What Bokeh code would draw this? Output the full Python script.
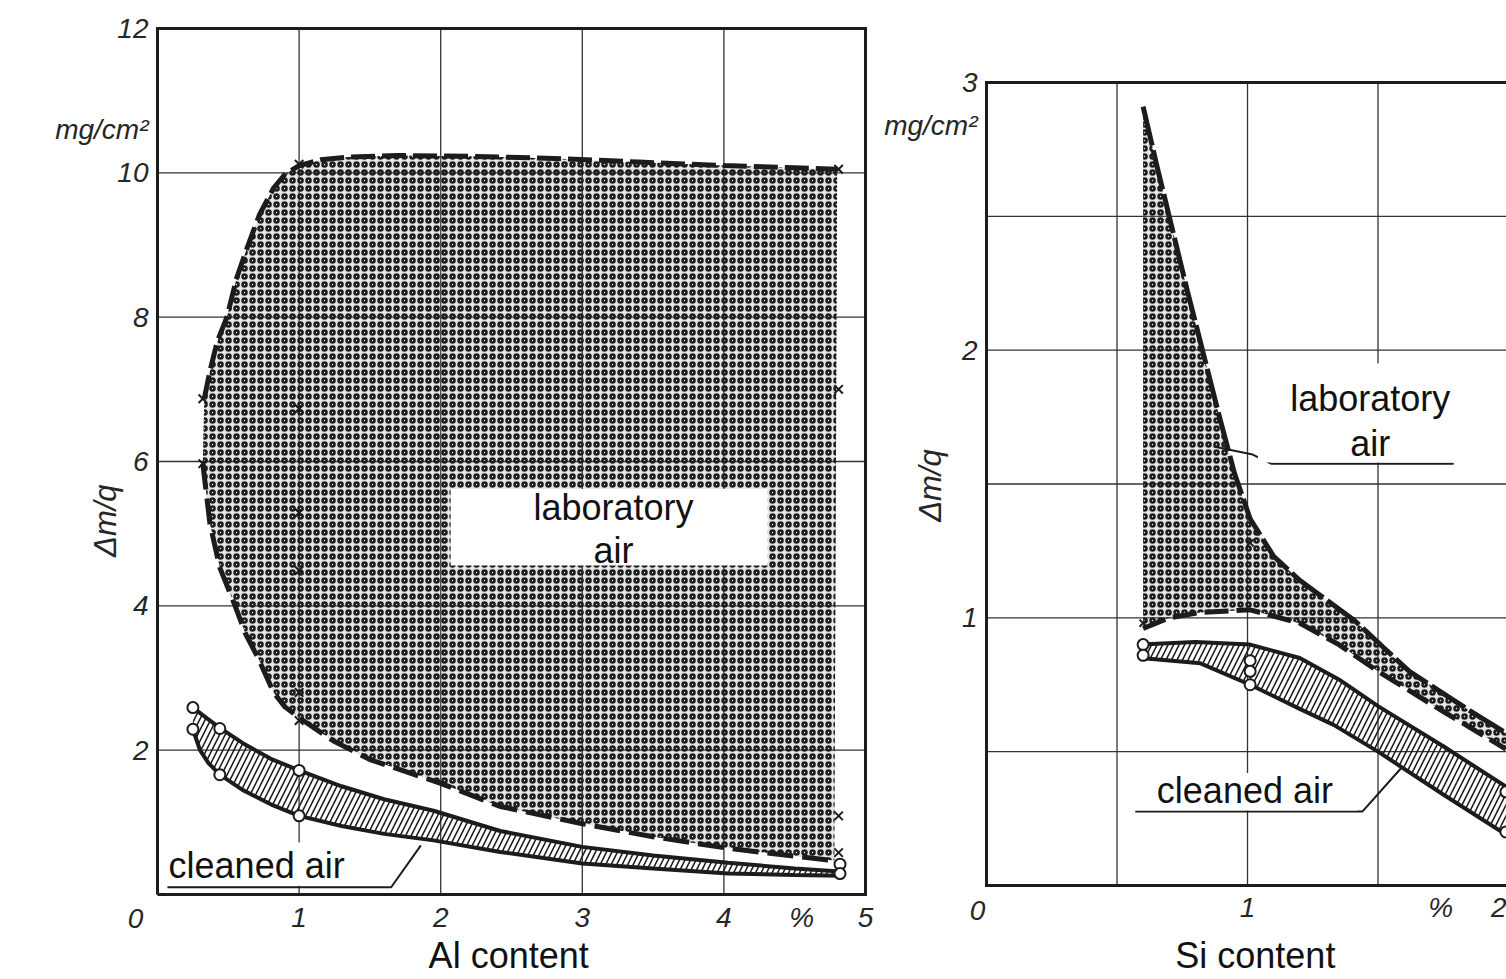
from bokeh.plotting import figure
from bokeh.layouts import row
from bokeh.models import FixedTicker, Label, BoxAnnotation, Range1d
from bokeh.embed import file_html
from bokeh.resources import INLINE

# ---------------- Al panel (left) ----------------
al_lab_upper_x = [0.33, 0.37, 0.42, 0.49, 0.56, 0.64, 0.72, 0.82, 0.90, 1.00, 1.15, 1.35, 1.70, 2.20, 2.80, 3.40, 4.00, 4.50, 4.80]
al_lab_upper_y = [6.87, 7.25, 7.65, 8.00, 8.55, 9.00, 9.42, 9.79, 9.98, 10.10, 10.18, 10.22, 10.24, 10.23, 10.20, 10.15, 10.10, 10.07, 10.05]
al_lab_lower_x = [0.32, 0.37, 0.44, 0.54, 0.62, 0.71, 0.82, 0.90, 1.00, 1.24, 1.50, 2.00, 2.42, 3.00, 3.50, 4.03, 4.50, 4.78]
al_lab_lower_y = [5.97, 5.14, 4.53, 4.04, 3.62, 3.28, 2.80, 2.60, 2.45, 2.13, 1.87, 1.54, 1.22, 0.98, 0.80, 0.64, 0.53, 0.47]
al_clean_upper_x = [0.25, 0.35, 0.44, 0.60, 0.80, 1.00, 1.30, 1.60, 1.95, 2.42, 3.00, 3.50, 4.03, 4.50, 4.82]
al_clean_upper_y = [2.59, 2.44, 2.31, 2.10, 1.88, 1.72, 1.50, 1.32, 1.16, 0.88, 0.66, 0.54, 0.44, 0.36, 0.32]
al_clean_lower_x = [0.25, 0.30, 0.36, 0.44, 0.60, 0.80, 1.00, 1.30, 1.60, 1.95, 2.42, 3.00, 3.50, 4.03, 4.50, 4.82]
al_clean_lower_y = [2.29, 2.00, 1.82, 1.66, 1.45, 1.25, 1.09, 0.95, 0.84, 0.75, 0.59, 0.43, 0.36, 0.29, 0.27, 0.26]
al_lab_pts_x = [0.32, 0.32, 1.0, 1.0, 1.0, 1.0, 1.0, 1.0, 4.81, 4.81, 4.81, 4.81]
al_lab_pts_y = [6.87, 5.97, 10.12, 6.73, 5.29, 4.49, 2.80, 2.41, 10.05, 7.00, 1.09, 0.58]
al_clean_pts_x = [0.25, 0.25, 0.44, 0.44, 1.0, 1.0, 4.82, 4.82]
al_clean_pts_y = [2.59, 2.29, 2.30, 1.66, 1.72, 1.09, 0.42, 0.29]
al_xmax, al_ymax = 5, 12
al_xticks = [1, 2, 3, 4, 5]
al_yticks = [2, 4, 6, 8, 10, 12]
al_xgrid = [1, 2, 3, 4]
al_ygrid = [2, 4, 6, 8, 10]

# ---------------- Si panel (right) ----------------
si_lab_upper_x = [0.60, 0.65, 0.71, 0.77, 0.83, 0.89, 0.95, 1.01, 1.10, 1.20, 1.27, 1.41, 1.52, 1.62, 1.73, 1.84, 1.99]
si_lab_upper_y = [2.91, 2.70, 2.46, 2.22, 1.99, 1.76, 1.54, 1.37, 1.23, 1.14, 1.09, 0.99, 0.89, 0.80, 0.73, 0.66, 0.57]
si_lab_lower_x = [0.60, 0.70, 0.82, 1.01, 1.20, 1.35, 1.50, 1.75, 1.99]
si_lab_lower_y = [0.96, 1.00, 1.02, 1.03, 0.98, 0.90, 0.80, 0.65, 0.51]
si_clean_upper_x = [0.59, 0.80, 1.01, 1.20, 1.35, 1.50, 1.75, 1.99]
si_clean_upper_y = [0.90, 0.91, 0.90, 0.85, 0.77, 0.67, 0.52, 0.37]
si_clean_lower_x = [0.59, 0.82, 1.01, 1.20, 1.33, 1.50, 1.75, 1.99]
si_clean_lower_y = [0.85, 0.83, 0.75, 0.66, 0.60, 0.50, 0.34, 0.19]
si_lab_pts_x = [0.60, 1.01]
si_lab_pts_y = [0.98, 1.28]
si_clean_pts_x = [0.60, 0.60, 1.01, 1.01, 1.01, 1.99, 1.99]
si_clean_pts_y = [0.90, 0.86, 0.84, 0.80, 0.75, 0.35, 0.20]
si_xmax, si_ymax = 2, 3
si_yticks = [1, 2, 3]
si_xgrid = [0.5, 1.0, 1.5]
si_ygrid = [0.5, 1.0, 1.5, 2.0, 2.5]

INK = "#1c1c1c"
GRID = "#333333"
FONT = "Liberation Sans"


def make_fig(width, xr, yr):
    p = figure(width=width, height=979, output_backend="svg", toolbar_location=None,
               x_range=Range1d(*xr), y_range=Range1d(*yr),
               min_border=0, min_border_left=0, min_border_right=0,
               min_border_top=0, min_border_bottom=0)
    p.outline_line_color = None
    p.grid.visible = False
    p.background_fill_color = "white"
    p.border_fill_color = "white"
    for ax in (p.xaxis[0], p.yaxis[0]):
        ax.fixed_location = 0
        ax.axis_line_color = None
        ax.major_tick_line_color = None
        ax.minor_tick_line_color = None
        ax.major_label_text_font = FONT
        ax.major_label_text_font_style = "italic"
        ax.major_label_text_font_size = "28px"
        ax.major_label_text_color = "#262626"
    p.yaxis[0].major_label_standoff = 3
    return p


def frame_and_grid(p, xmax, ymax, xgrid, ygrid):
    n, m = len(xgrid), len(ygrid)
    p.segment(x0=xgrid, y0=[0] * n, x1=xgrid, y1=[ymax] * n, line_color=GRID, line_width=1.3)
    p.segment(x0=[0] * m, y0=ygrid, x1=[xmax] * m, y1=ygrid, line_color=GRID, line_width=1.3)


def frame_box(p, xs, ys):
    p.line(xs, ys, line_color=INK, line_width=3, line_join="miter")


def band(p, ux, uy, lx, ly, pattern, scale, weight, fill=None):
    xs = list(ux) + list(reversed(lx))
    ys = list(uy) + list(reversed(ly))
    p.patch(xs, ys, fill_color=fill or "white", fill_alpha=0.22 if fill else 0,
            line_color=None, hatch_pattern=pattern, hatch_scale=scale,
            hatch_weight=weight, hatch_color=INK)


def text(p, x, y, s, size="36px", style="normal", angle=0.0, color="#111111"):
    p.add_layout(Label(x=x, y=y, text=s, text_font=FONT, text_font_size=size,
                       text_font_style=style, text_color=color, angle=angle,
                       text_align="center", text_baseline="middle"))


def white_box(p, l, r, b, t):
    p.add_layout(BoxAnnotation(left=l, right=r, bottom=b, top=t,
                               fill_color="white", fill_alpha=1, line_color=None))


# ================= left figure (Al) =================
# frame covers the whole canvas; x=0 at 157 px, x=5 at 865 px; y=0 at 894 px, y=12 at 28 px
p1 = make_fig(876, (-1.1088, 5.0777), (-1.1778, 12.388))
p1.xaxis.ticker = FixedTicker(ticks=al_xticks + [4.55])
p1.xaxis.major_label_overrides = {4.55: "%"}
p1.xaxis.major_label_standoff = 1
p1.yaxis.ticker = FixedTicker(ticks=al_yticks + [10.6])
p1.yaxis.major_label_overrides = {10.6: "mg/cm²"}
frame_and_grid(p1, al_xmax, al_ymax, al_xgrid, al_ygrid)

band(p1, al_lab_upper_x, al_lab_upper_y, al_lab_lower_x, al_lab_lower_y, "o", 8, 2.5, fill="#8a8a8a")
band(p1, al_clean_upper_x, al_clean_upper_y, al_clean_lower_x, al_clean_lower_y, "/", 11, 1.6)

frame_box(p1, [0, al_xmax, al_xmax, 0, 0], [0, 0, al_ymax, al_ymax, 0])

p1.line(al_lab_upper_x, al_lab_upper_y, line_color=INK, line_width=5, line_dash="24 7")
p1.line(al_lab_lower_x, al_lab_lower_y, line_color=INK, line_width=5, line_dash="26 9")
p1.line(al_clean_upper_x, al_clean_upper_y, line_color=INK, line_width=4)
p1.line(al_clean_lower_x, al_clean_lower_y, line_color=INK, line_width=4)
p1.scatter(al_lab_pts_x, al_lab_pts_y, marker="x", size=12, line_color=INK, line_width=2)
p1.scatter(al_clean_pts_x, al_clean_pts_y, marker="circle", size=11, line_color=INK,
           line_width=2, fill_color="white")

white_box(p1, 2.07, 4.31, 4.56, 5.62)
text(p1, 3.22, 5.36, "laboratory")
text(p1, 3.22, 4.77, "air")
white_box(p1, 0.04, 1.65, 0.12, 0.72)
text(p1, 0.70, 0.40, "cleaned air")
p1.line([0.07, 1.65, 1.86], [0.10, 0.10, 0.68], line_color=INK, line_width=2)

text(p1, -0.155, -0.33, "0", size="28px", style="italic", color="#262626")
text(p1, -0.37, 5.18, "Δm/q", size="31px", style="italic", angle=1.5708, color="#262626")
text(p1, 2.48, -0.845, "Al content")

# ================= right figure (Si) =================
# x=0 at 986 px (110 px in this canvas), 261 px per unit; y=0 at 885 px, y=3 at 82 px
p2 = make_fig(630, (-0.4215, 1.9923), (-0.3512, 3.3063))
p2.xaxis.ticker = FixedTicker(ticks=[1, 1.74, 1.975])
p2.xaxis.major_label_overrides = {1.74: "%", 1.975: "2"}
p2.xaxis.major_label_standoff = 1
p2.yaxis.ticker = FixedTicker(ticks=si_yticks + [2.84])
p2.yaxis.major_label_overrides = {2.84: "mg/cm²"}
frame_and_grid(p2, si_xmax, si_ymax, si_xgrid, si_ygrid)

band(p2, si_lab_upper_x, si_lab_upper_y, si_lab_lower_x, si_lab_lower_y, "o", 8, 2.5, fill="#8a8a8a")
band(p2, si_clean_upper_x, si_clean_upper_y, si_clean_lower_x, si_clean_lower_y, "/", 11, 1.6)

frame_box(p2, [si_xmax, 0, 0, si_xmax], [si_ymax, si_ymax, 0, 0])

p2.line(si_lab_upper_x, si_lab_upper_y, line_color=INK, line_width=5, line_dash="40 5")
p2.line(si_lab_lower_x, si_lab_lower_y, line_color=INK, line_width=5, line_dash="24 8")
p2.line(si_clean_upper_x, si_clean_upper_y, line_color=INK, line_width=4)
p2.line(si_clean_lower_x, si_clean_lower_y, line_color=INK, line_width=4)
p2.scatter(si_lab_pts_x, si_lab_pts_y, marker="x", size=10, line_color=INK, line_width=2)
p2.scatter(si_clean_pts_x, si_clean_pts_y, marker="circle", size=11, line_color=INK,
           line_width=2, fill_color="white")

white_box(p2, 1.04, 1.97, 1.58, 1.95)
text(p2, 1.47, 1.82, "laboratory")
text(p2, 1.47, 1.65, "air")
p2.line([0.87, 1.02, 1.09, 1.79], [1.64, 1.61, 1.576, 1.576], line_color=INK, line_width=2)
white_box(p2, 0.56, 1.42, 0.28, 0.42)
text(p2, 0.99, 0.355, "cleaned air")
p2.line([0.57, 1.44, 1.59], [0.276, 0.276, 0.44], line_color=INK, line_width=2)

text(p2, -0.034, -0.093, "0", size="28px", style="italic", color="#262626")
text(p2, -0.215, 1.494, "Δm/q", size="31px", style="italic", angle=1.5708, color="#262626")
text(p2, 1.03, -0.2615, "Si content")

layout = row(p1, p2, spacing=0)
open("out.html", "w").write(file_html(layout, INLINE))
